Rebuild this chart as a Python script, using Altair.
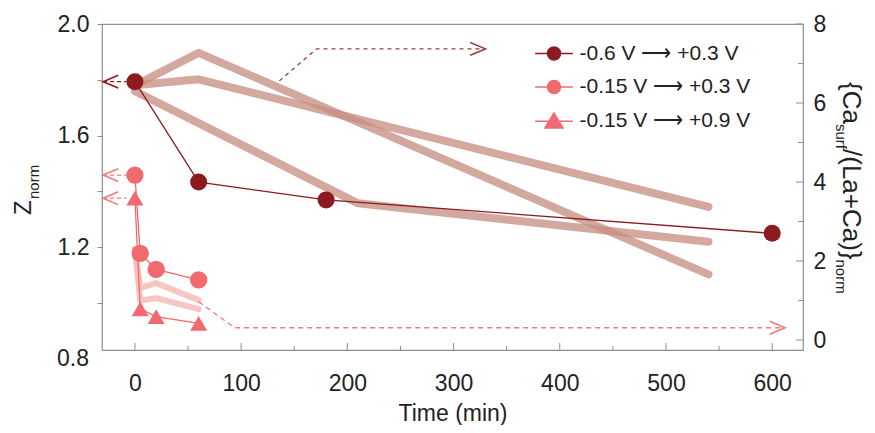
import altair as alt
import pandas as pd

# ---------------- data ----------------
series_labels = ["-0.6 V \u27f6 +0.3 V", "-0.15 V \u27f6 +0.3 V", "-0.15 V \u27f6 +0.9 V"]

# Z_norm (left axis)
t_a = [0, 60, 180, 600]
z_a = [1.793, 1.433, 1.369, 1.249]
t_b = [0, 5, 20, 60]
z_b = [1.458, 1.177, 1.120, 1.082]
t_c = [0, 5, 20, 60]
z_c = [1.375, 0.978, 0.950, 0.926]

# {Ca_surf/(La+Ca)}_norm (right axis)
ca1_t = [0, 60, 540]
ca1_v = [6.45, 7.27, 1.66]
ca2_t = [0, 60, 540]
ca2_v = [6.45, 6.60, 3.37]
ca3_t = [0, 210, 540]
ca3_v = [6.30, 3.46, 2.49]
ca4_t = [0, 5, 20, 60]
ca4_v = [2.30, 1.32, 1.44, 1.01]
ca5_t = [0, 5, 20, 60]
ca5_v = [2.30, 1.00, 1.06, 0.78]

# annotation arrows
left_arrow_t = [-30, -8]
arrow1_t = [136, 171, 330]
arrow1_v = [6.56, 7.37, 7.37]
arrow2_t = [60, 94, 612]
arrow2_v = [0.97, 0.31, 0.31]

# ticks
x_major = [0, 100, 200, 300, 400, 500, 600]
x_minor = [50, 150, 250, 350, 450, 550]
yl_ticks = [0.8, 1.0, 1.2, 1.4, 1.6, 1.8, 2.0]
yr_major = [0, 2, 4, 6, 8]
yr_minor = [1, 3, 5, 7]

# ---------------- styling ----------------
FONT = "Liberation Sans"
TXT = "#222222"
DARK = "#8c1b1f"
PINK = "#f06a6f"
BAND = "#c78f83"
LIGHT = "#f6bcb8"
ARROW_DARK = "#9b3b3b"
ARROW_PINK = "#f07a7c"
FRAME = "#8f8f8f"
W, H = 701, 326

LEFT_HEAD = "M1.9,-0.8L0,0L1.9,0.8"
RIGHT_HEAD = "M-1.9,-0.8L0,0L-1.9,0.8"
LEG_CIRCLE = "M-2.9,0L-1,0M1,0L2.9,0M-1,0A1,1,0,1,0,1,0A1,1,0,1,0,-1,0Z"
LEG_TRI = "M-2.9,0.13L-0.78,0.13M0.78,0.13L2.9,0.13M0,-1.15L1.4,1.15L-1.4,1.15Z"

x_scale = alt.Scale(domain=[-31, 629], nice=False, zero=False)
yl_scale = alt.Scale(domain=[0.8305, 2.0], nice=False, zero=False)
yr_scale = alt.Scale(domain=[-0.253, 8], nice=False, zero=False)

x_axis = alt.Axis(values=x_major, ticks=False, tickSize=0, domain=False, grid=False,
                  labelFont=FONT, labelFontSize=23, labelColor=TXT, labelPadding=22,
                  title="Time (min)", titleFont=FONT, titleFontSize=23,
                  titleFontWeight="normal", titleColor=TXT, titlePadding=7)
yl_axis = alt.Axis(orient="left", values=yl_ticks, tickSize=5, tickColor=FRAME, domain=False,
                   grid=False, labelFont=FONT, labelFontSize=23, labelColor=TXT,
                   labelPadding=8, title=None,
                   labelExpr="(round(datum.value*10) % 4 == 0) ? format(datum.value, '.1f') : ''")
yr_axis = alt.Axis(orient="right", values=yr_major, ticks=False, tickSize=0, domain=False,
                   grid=False, labelFont=FONT, labelFontSize=23, labelColor=TXT,
                   labelPadding=10, title=None)

X = alt.X("t:Q", scale=x_scale, axis=x_axis)
YL = alt.Y("v:Q", scale=yl_scale, axis=yl_axis)
YR = alt.Y("v:Q", scale=yr_scale, axis=yr_axis)


def df(ts, vs, key="s"):
    return pd.DataFrame({"t": ts, "v": vs, "k": [key] * len(ts)})


# ---------------- right-axis group (bands) ----------------
bands = pd.concat([df(ca1_t, ca1_v, "1"), df(ca2_t, ca2_v, "2"), df(ca3_t, ca3_v, "3")])
light = pd.concat([df(ca4_t, ca4_v, "4"), df(ca5_t, ca5_v, "5")])

r_bands = alt.Chart(bands).mark_line(color=BAND, strokeWidth=8, opacity=0.78,
                                     strokeCap="round", strokeJoin="round").encode(
    x=X, y=YR, detail="k:N", order="t:Q")
r_light = alt.Chart(light).mark_line(color=LIGHT, strokeWidth=6, opacity=0.85,
                                     strokeCap="round", strokeJoin="round").encode(
    x=X, y=YR, detail="k:N", order="t:Q")
r_arr1 = alt.Chart(df(arrow1_t, arrow1_v)).mark_line(
    color=ARROW_DARK, strokeWidth=1.3, strokeDash=[4, 4]).encode(x=X, y=YR, order="t:Q")
r_arr2 = alt.Chart(df(arrow2_t, arrow2_v)).mark_line(
    color=ARROW_PINK, strokeWidth=1.3, strokeDash=[5, 4]).encode(x=X, y=YR, order="t:Q")
r_head1 = alt.Chart(df(arrow1_t[-1:], arrow1_v[-1:])).mark_point(
    shape=RIGHT_HEAD, size=256, filled=False, strokeWidth=1.6, color=ARROW_DARK,
    opacity=1).encode(x=X, y=YR)
r_head2 = alt.Chart(df(arrow2_t[-1:], arrow2_v[-1:])).mark_point(
    shape=RIGHT_HEAD, size=256, filled=False, strokeWidth=1.6, color=ARROW_PINK,
    opacity=1).encode(x=X, y=YR)
r_tick_major = alt.Chart(pd.DataFrame({"v": yr_major})).mark_rule(
    color=FRAME, strokeWidth=1).encode(y=YR, x=alt.value(W), x2=alt.value(W - 7))
r_tick_minor = alt.Chart(pd.DataFrame({"v": yr_minor})).mark_rule(
    color=FRAME, strokeWidth=1).encode(y=YR, x=alt.value(W), x2=alt.value(W - 5))

right_group = alt.layer(r_bands, r_light, r_arr1, r_arr2, r_head1, r_head2,
                        r_tick_major, r_tick_minor)

# ---------------- left-axis group (Z_norm) ----------------
l_line_a = alt.Chart(df(t_a, z_a)).mark_line(color=DARK, strokeWidth=1.3).encode(
    x=X, y=YL, order="t:Q")
l_line_b = alt.Chart(df(t_b, z_b)).mark_line(color=PINK, strokeWidth=1.3).encode(
    x=X, y=YL, order="t:Q")
l_line_c = alt.Chart(df(t_c, z_c)).mark_line(color=PINK, strokeWidth=1.3).encode(
    x=X, y=YL, order="t:Q")
l_pts_a = alt.Chart(df(t_a, z_a)).mark_point(shape="circle", filled=True, size=290,
                                             color=DARK, opacity=1).encode(x=X, y=YL)
l_pts_b = alt.Chart(df(t_b, z_b)).mark_point(shape="circle", filled=True, size=300,
                                             color=PINK, opacity=1).encode(x=X, y=YL)
l_pts_c = alt.Chart(df(t_c, z_c)).mark_point(shape="triangle-up", filled=True, size=290,
                                             color=PINK, opacity=1).encode(x=X, y=YL)

la_dark = df(left_arrow_t, [z_a[0]] * 2)
la_pink = pd.concat([df(left_arrow_t, [z_b[0]] * 2, "b"), df(left_arrow_t, [z_c[0]] * 2, "c")])
l_arr_dark = alt.Chart(la_dark).mark_line(color=DARK, strokeWidth=1.3, strokeDash=[4, 3]).encode(
    x=X, y=YL, order="t:Q")
l_arr_pink = alt.Chart(la_pink).mark_line(color=ARROW_PINK, strokeWidth=1.3,
                                          strokeDash=[4, 3]).encode(x=X, y=YL, detail="k:N",
                                                                    order="t:Q")
l_head_dark = alt.Chart(df(left_arrow_t[:1], [z_a[0]])).mark_point(
    shape=LEFT_HEAD, size=256, filled=False, strokeWidth=1.6, color=DARK, opacity=1).encode(
    x=X, y=YL)
l_head_pink = alt.Chart(df(left_arrow_t[:1] * 2, [z_b[0], z_c[0]])).mark_point(
    shape=LEFT_HEAD, size=256, filled=False, strokeWidth=1.6, color=ARROW_PINK, opacity=1).encode(
    x=X, y=YL)

x_tick_major = alt.Chart(pd.DataFrame({"t": x_major})).mark_rule(
    color=FRAME, strokeWidth=1).encode(x=X, y=alt.value(H), y2=alt.value(H - 7))
x_tick_minor = alt.Chart(pd.DataFrame({"t": x_minor})).mark_rule(
    color=FRAME, strokeWidth=1).encode(x=X, y=alt.value(H), y2=alt.value(H - 4))

low_label = alt.Chart(pd.DataFrame({"v": [0.8]})).mark_text(
    align="right", baseline="middle", font=FONT, fontSize=23, color=TXT).encode(
    x=alt.value(-13), y=YL, text=alt.value("0.8"))

legend_props = alt.Legend(orient="none", legendX=441.5, legendY=19, title=None,
                          labelFont=FONT, labelFontSize=21, labelColor=TXT,
                          labelOffset=15, rowPadding=11.5, padding=0, labelLimit=400,
                          symbolSize=169, symbolStrokeWidth=1.5, symbolOpacity=1)
leg = alt.Chart(pd.DataFrame({"series": series_labels})).transform_filter("false").mark_point(
    filled=True, opacity=1, strokeWidth=1.5).encode(
    color=alt.Color("series:N", scale=alt.Scale(domain=series_labels,
                                                 range=[DARK, PINK, PINK]), legend=legend_props),
    stroke=alt.Stroke("series:N", scale=alt.Scale(domain=series_labels,
                                                   range=[DARK, PINK, PINK]), legend=legend_props),
    shape=alt.Shape("series:N", scale=alt.Scale(domain=series_labels,
                                                 range=[LEG_CIRCLE, LEG_CIRCLE, LEG_TRI]),
                    legend=legend_props),
)

left_group = alt.layer(l_line_a, l_line_b, l_line_c, l_arr_dark, l_arr_pink,
                       l_head_dark, l_head_pink, l_pts_a, l_pts_b, l_pts_c,
                       x_tick_major, x_tick_minor, low_label, leg)

# ---------------- axis titles with subscripts ----------------
one = alt.Data(values=[{}])


def txt(s, x, y, size, angle):
    return alt.Chart(one).mark_text(text=s, font=FONT, fontSize=size, color=TXT,
                                    angle=angle, align="left", baseline="alphabetic").encode(
        x=alt.value(x), y=alt.value(y))


titles = alt.layer(
    txt("Z", -71, 191, 24, 270),
    txt("norm", -63, 175, 15, 270),
    txt("{Ca", 741, 58, 26, 90),
    txt("surf", 734, 100, 15, 90),
    txt("/(La+Ca)}", 741, 125, 26, 90),
    txt("norm", 734, 235.5, 15, 90),
)

chart = alt.layer(right_group, left_group, titles).resolve_scale(
    y="independent"
).properties(
    width=W, height=H, autosize="none",
    padding={"left": 94, "top": 16, "right": 64, "bottom": 75},
    background="white",
).configure_view(stroke=FRAME, strokeWidth=1.2)

chart.save("out.html", embed_options={"renderer": "svg", "actions": False})
